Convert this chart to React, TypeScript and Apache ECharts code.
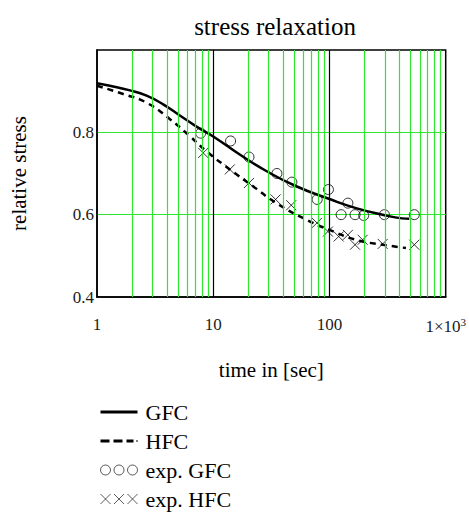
import React, { useEffect, useRef } from "react";
import * as echarts from "echarts";

const gfcT = [1, 1.29, 1.92, 2.67, 3.71, 5.16, 7.18, 10, 16.9, 28.6, 51.8, 100, 169, 287, 420, 486];
const gfcY = [0.919, 0.913, 0.902, 0.889, 0.868, 0.841, 0.814, 0.79, 0.746, 0.706, 0.669, 0.638, 0.616, 0.6, 0.591, 0.59];

const hfcT = [1, 1.68, 2.67, 4.24, 6.28, 8.74, 13.9, 22, 34.9, 63, 100, 169, 287, 455];
const hfcY = [0.913, 0.893, 0.872, 0.832, 0.791, 0.754, 0.71, 0.669, 0.628, 0.588, 0.563, 0.539, 0.527, 0.519];

const expGfcT = [7.8, 14.1, 20.3, 35.3, 47.5, 78.4, 98, 126, 144, 166, 197, 297, 537];
const expGfcY = [0.798, 0.779, 0.74, 0.7, 0.679, 0.637, 0.661, 0.6, 0.628, 0.6, 0.598, 0.6, 0.6];

const expHfcT = [8.2, 13.9, 20.3, 34.4, 46.9, 78, 97, 120, 144, 166, 193, 287, 537];
const expHfcY = [0.75, 0.71, 0.677, 0.637, 0.623, 0.58, 0.559, 0.547, 0.551, 0.527, 0.539, 0.529, 0.527];

const minorTicks = [2, 3, 4, 5, 6, 7, 8, 9, 20, 30, 40, 50, 60, 70, 80, 90, 200, 300, 400, 500, 600, 700, 800, 900];

const SERIF = "'Liberation Serif', 'Times New Roman', serif";
const GREEN = "#2ee62e";
const crossPath = "path://M0,0L10,10M10,0L0,10";
const solidIcon = "path://M0,0M0,10M0,3.5L37,3.5L37,6.5L0,6.5Z";
const dashIcon =
  "path://M0,0M0,10M0,3.5L9,3.5L9,6.5L0,6.5ZM13,3.5L22,3.5L22,6.5L13,6.5ZM26,3.5L33,3.5L33,6.5L26,6.5ZM36,4L37,4L37,6L36,6Z";
const circles3 =
  "path://M0,5a5,5 0 1,0 10,0a5,5 0 1,0 -10,0M13.5,5a5,5 0 1,0 10,0a5,5 0 1,0 -10,0M27,5a5,5 0 1,0 10,0a5,5 0 1,0 -10,0";
const crosses3 = "path://M0,0L10,10M10,0L0,10M13.5,0L23.5,10M23.5,0L13.5,10M27,0L37,10M37,0L27,10";

const zip = (a: number[], b: number[]) => a.map((v, i) => [v, b[i]]);

export default function App() {
  const ref = useRef<HTMLDivElement>(null);
  useEffect(() => {
    const chart = echarts.init(ref.current!, null, { renderer: "svg" });
    chart.setOption({
      animation: false,
      backgroundColor: "#fff",
      title: {
        text: "stress relaxation",
        left: 270,
        textAlign: "center",
        top: 9,
        textStyle: { fontFamily: SERIF, fontSize: 25, fontWeight: "normal", color: "#000" },
      },
      grid: {
        left: 97,
        top: 50,
        width: 349,
        height: 247,
        show: true,
        borderColor: "#000",
        borderWidth: 1.5,
        backgroundColor: "transparent",
      },
      xAxis: {
        type: "log",
        logBase: 10,
        min: 1,
        max: 1000,
        name: "time in [sec]",
        nameLocation: "middle",
        nameGap: 62,
        nameTextStyle: { fontFamily: SERIF, fontSize: 21, color: "#000" },
        axisLine: { lineStyle: { color: "#000", width: 1.5 } },
        axisTick: { show: false },
        axisLabel: {
          margin: 19,
          fontFamily: SERIF,
          fontSize: 17,
          color: "#1a1a1a",
          formatter: (v: number) => (v >= 1000 ? "1×10{s|3}" : String(v)),
          rich: { s: { fontFamily: SERIF, fontSize: 11, color: "#1a1a1a", padding: [0, 0, 9, 0] } },
        },
        splitLine: { show: true, showMinLine: false, showMaxLine: false, lineStyle: { color: "#000", width: 1.2 } },
      },
      yAxis: {
        type: "value",
        min: 0.4,
        max: 1.0,
        interval: 0.2,
        name: "relative stress",
        nameLocation: "middle",
        nameGap: 68,
        nameTextStyle: { fontFamily: SERIF, fontSize: 21, color: "#000" },
        axisLine: { show: true, lineStyle: { color: "#000", width: 1.5 } },
        axisTick: { show: false },
        axisLabel: {
          margin: 3,
          fontFamily: SERIF,
          fontSize: 17,
          color: "#1a1a1a",
          showMaxLabel: false,
          padding: [8, 0, 0, 0],
          formatter: (v: number) => v.toFixed(1),
        },
        splitLine: { show: true, showMinLine: false, showMaxLine: false, lineStyle: { color: GREEN, width: 1.2 } },
      },
      legend: {
        orient: "vertical",
        left: 100,
        top: 401,
        padding: 0,
        itemWidth: 37,
        itemHeight: 10,
        itemGap: 7,
        textStyle: { fontFamily: SERIF, fontSize: 22, color: "#000", lineHeight: 22, padding: [0, 0, 0, 3] },
        data: [
          { name: "GFC", icon: solidIcon, itemStyle: { color: "#000", borderWidth: 0 } },
          { name: "HFC", icon: dashIcon, itemStyle: { color: "#000", borderWidth: 0 } },
          { name: "exp. GFC", icon: circles3, itemStyle: { color: "transparent", borderColor: "#333", borderWidth: 1 } },
          { name: "exp. HFC", icon: crosses3, itemStyle: { color: "transparent", borderColor: "#333", borderWidth: 1 } },
        ],
      },
      series: [
        {
          name: "gridlines",
          type: "line",
          data: [],
          z: 1,
          silent: true,
          markLine: {
            silent: true,
            symbol: "none",
            label: { show: false },
            lineStyle: { color: GREEN, width: 1.2, type: "solid" },
            data: minorTicks.map((t) => ({ xAxis: t })),
          },
        },
        {
          name: "GFC",
          type: "line",
          z: 3,
          smooth: 0.5,
          showSymbol: false,
          symbol: "none",
          lineStyle: { color: "#000", width: 2.5 },
          itemStyle: { color: "#000" },
          data: zip(gfcT, gfcY),
        },
        {
          name: "HFC",
          type: "line",
          z: 3,
          smooth: 0.5,
          showSymbol: false,
          symbol: "none",
          lineStyle: { color: "#000", width: 2.5, type: [6, 5] },
          itemStyle: { color: "#000" },
          data: zip(hfcT, hfcY),
        },
        {
          name: "exp. GFC",
          type: "scatter",
          z: 4,
          symbol: "circle",
          symbolSize: 10,
          itemStyle: { color: "transparent", borderColor: "#000", borderWidth: 1 },
          data: zip(expGfcT, expGfcY),
        },
        {
          name: "exp. HFC",
          type: "scatter",
          z: 4,
          symbol: crossPath,
          symbolSize: 10,
          itemStyle: { color: "transparent", borderColor: "#000", borderWidth: 1 },
          data: zip(expHfcT, expHfcY),
        },
      ],
    });
    return () => chart.dispose();
  }, []);
  return <div ref={ref} style={{ width: 469, height: 513, position: "absolute", left: 0, top: 0 }} />;
}
